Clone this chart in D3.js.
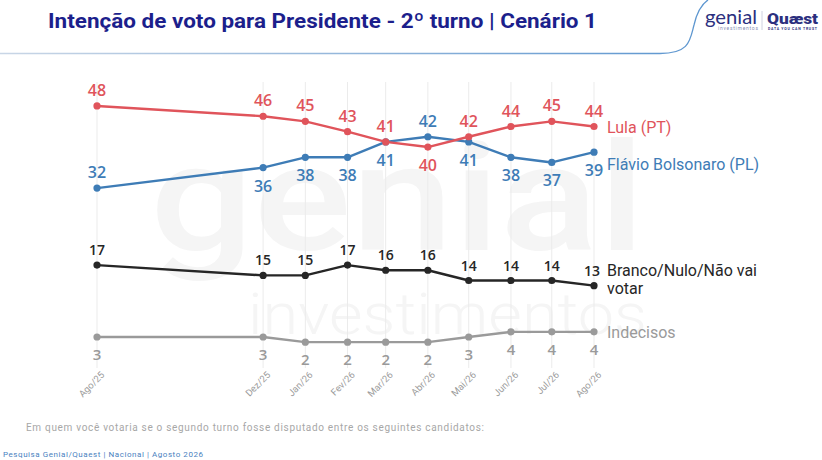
<!DOCTYPE html>
<html>
<head>
<meta charset="utf-8">
<script src="https://cdn.jsdelivr.net/npm/d3@7"></script>
<style>
  body { margin: 0; background: #fff; }
  svg { display: block; font-family: Roboto, "Open Sans", sans-serif; }
</style>
</head>
<body>
<svg id="chart" width="822" height="460"></svg>
<script>
"use strict";

// month labels and survey dates
var months = ["Ago/25", "Dez/25", "Jan/26", "Fev/26", "Mar/26", "Abr/26", "Mai/26", "Jun/26", "Jul/26", "Ago/26"];
var dates = ["2025-08", "2025-12", "2026-01", "2026-02", "2026-03", "2026-04", "2026-05", "2026-06", "2026-07", "2026-08"];

// series values (%)
var lula = [48, 46, 45, 43, 41, 40, 42, 44, 45, 44];
var flavio = [32, 36, 38, 38, 41, 42, 41, 38, 37, 39];
var branco = [17, 15, 15, 17, 16, 16, 14, 14, 14, 13];
var indecisos = [3, 3, 2, 2, 2, 2, 3, 4, 4, 4];

var parseMonth = d3.timeParse("%Y-%m");
var when = dates.map(parseMonth);

var svg = d3.select("#chart");

var x = d3.scaleTime().domain(d3.extent(when)).range([97, 594]);
var y = d3.scaleLinear().domain([0, 50]).range([352.4, 95.7]);

// ---- header ----
var defs = svg.append("defs");
var grad = defs.append("linearGradient").attr("id", "hdr").attr("x1", "0%").attr("x2", "100%");
grad.append("stop").attr("offset", "0%").attr("stop-color", "#c9d6e6");
grad.append("stop").attr("offset", "100%").attr("stop-color", "#5b95cf");
var grad2 = defs.append("linearGradient").attr("id", "ftr").attr("x1", "0%").attr("x2", "100%");
grad2.append("stop").attr("offset", "0%").attr("stop-color", "#5b95cf");
grad2.append("stop").attr("offset", "100%").attr("stop-color", "#8ebbe6");

svg.append("path")
  .attr("d", "M0,53.5 L660,53.5 C690,53.5 690,40 694,25 C697,12 702,4 708,0")
  .attr("fill", "none")
  .attr("stroke", "url(#hdr)")
  .attr("stroke-width", 1.3);

svg.append("text")
  .attr("x", 48)
  .attr("y", 28)
  .attr("textLength", 549)
  .attr("lengthAdjust", "spacingAndGlyphs")
  .attr("font-size", 21)
  .attr("font-weight", 700)
  .attr("fill", "#1c1f8c")
  .text("Intenção de voto para Presidente - 2º turno | Cenário 1");

// logos as text
svg.append("text").attr("x", 705).attr("y", 24).attr("font-size", 19)
  .attr("font-family", "Lato, sans-serif").attr("fill", "#2b2f7e")
  .attr("textLength", 52).attr("lengthAdjust", "spacingAndGlyphs").text("genial");
svg.append("text").attr("x", 718).attr("y", 30).attr("font-size", 5).attr("fill", "#8a8fb3")
  .attr("textLength", 40).text("investimentos");
svg.append("line").attr("x1", 762).attr("x2", 762).attr("y1", 11).attr("y2", 30)
  .attr("stroke", "#c4c7d8").attr("stroke-width", 0.8);
svg.append("text").attr("x", 767).attr("y", 24).attr("font-size", 15).attr("font-weight", 900)
  .attr("fill", "#2b2f7e").attr("textLength", 51).attr("lengthAdjust", "spacingAndGlyphs").text("Quæst");
svg.append("text").attr("x", 768).attr("y", 30).attr("font-size", 3.5).attr("font-weight", 700)
  .attr("fill", "#2b2f7e").attr("textLength", 49).text("DATA YOU CAN TRUST");

// ---- watermark ----
svg.append("text").attr("x", 150).attr("y", 250).attr("font-size", 150).attr("font-weight", 500)
  .attr("fill", "#f5f5f5").attr("textLength", 495).attr("lengthAdjust", "spacingAndGlyphs").text("genial");
svg.append("text").attr("x", 248).attr("y", 334).attr("font-size", 58).attr("font-weight", 300)
  .attr("fill", "#f5f5f5").attr("textLength", 399).attr("lengthAdjust", "spacingAndGlyphs").text("investimentos");

// ---- grid ----
svg.append("g")
  .selectAll("line")
  .data(when)
  .join("line")
  .attr("x1", (d) => x(d))
  .attr("x2", (d) => x(d))
  .attr("y1", 82)
  .attr("y2", 368)
  .attr("stroke", "#ebebeb")
  .attr("stroke-width", 1);

// ---- x axis ----
var xAxis = d3.axisBottom(x)
  .tickValues(when)
  .tickSize(0)
  .tickFormat((d, i) => months[i]);

var gx = svg.append("g").attr("transform", "translate(0,371)").call(xAxis);
gx.select(".domain").remove();
gx.selectAll("text")
  .attr("font-family", "Roboto, sans-serif")
  .attr("font-size", 9.5)
  .attr("fill", "#9b9b9b")
  .attr("text-anchor", "end")
  .attr("dy", "0.35em")
  .attr("transform", "translate(3,0) rotate(-45)");

// ---- series ----
var series = [
  { name: "Indecisos", values: indecisos, color: "#9a9a9a", fontSize: 15, label: ["Indecisos"] },
  { name: "Branco", values: branco, color: "#262626", fontSize: 14, label: ["Branco/Nulo/Não vai", "votar"] },
  { name: "Flávio", values: flavio, color: "#3e7cb6", fontSize: 16, label: ["Flávio Bolsonaro (PL)"] },
  { name: "Lula", values: lula, color: "#e0545b", fontSize: 16, label: ["Lula (PT)"] },
];

// where the value label sits relative to its point
function above(s, i) {
  if (s.name === "Lula") return lula[i] >= flavio[i];
  if (s.name === "Flávio") return i === 0 || flavio[i] > lula[i];
  if (s.name === "Branco") return true;
  return false;
}

var line = d3.line()
  .x((d, i) => x(when[i]))
  .y((d) => y(d));

var gs = svg.append("g")
  .selectAll(".serie")
  .data(series)
  .join("g")
  .attr("class", "serie");

gs.append("path")
  .attr("d", (s) => line(s.values))
  .attr("fill", "none")
  .attr("stroke", (s) => s.color)
  .attr("stroke-width", 2.4)
  .attr("stroke-linejoin", "round");

gs.selectAll("circle")
  .data((s) => s.values.map((v) => ({ v: v, s: s })))
  .join("circle")
  .attr("cx", (d, i) => x(when[i]))
  .attr("cy", (d) => y(d.v))
  .attr("r", 3.6)
  .attr("fill", (d) => d.s.color);

gs.selectAll(".val")
  .data((s) => s.values.map((v) => ({ v: v, s: s })))
  .join("text")
  .attr("class", "val")
  .attr("x", (d, i) => x(when[i]))
  .attr("y", (d, i) => {
    if (d.s.name === "Indecisos") return y(d.v) + 23;
    if (d.s.name === "Branco") return y(d.v) - 10;
    return above(d.s, i) ? y(d.v) - 10 : y(d.v) + 24;
  })
  .attr("dx", (d, i) => (d.s.name === "Branco" && i === d.s.values.length - 1 ? -2 : 0))
  .attr("text-anchor", "middle")
  .attr("font-family", "'Open Sans', sans-serif")
  .attr("font-size", (d) => d.s.fontSize)
  .attr("font-weight", 600)
  .attr("fill", (d) => d.s.color)
  .text((d) => d.v);

// end labels
gs.append("text")
  .attr("x", 607)
  .attr("y", (s) => {
    var last = s.values[s.values.length - 1];
    if (s.name === "Branco") return y(last) - 10;
    if (s.name === "Flávio") return y(last) + 18;
    return y(last) + 6;
  })
  .attr("font-size", 16)
  .attr("fill", (s) => s.color)
  .selectAll("tspan")
  .data((s) => s.label)
  .join("tspan")
  .attr("x", 607)
  .attr("dy", (d, i) => (i === 0 ? 0 : 18))
  .text((d) => d);

// ---- footer ----
svg.append("text")
  .attr("x", 26)
  .attr("y", 431)
  .attr("font-size", 10)
  .attr("fill", "#a7a7a7")
  .attr("textLength", 458)
  .text("Em quem você votaria se o segundo turno fosse disputado entre os seguintes candidatos:");

svg.append("text")
  .attr("x", 3)
  .attr("y", 457)
  .attr("font-size", 8)
  .attr("fill", "#4a7fc0")
  .attr("textLength", 200)
  .text("Pesquisa Genial/Quaest | Nacional | Agosto 2026");

svg.append("line")
  .attr("x1", 210).attr("x2", 822)
  .attr("y1", 454.5).attr("y2", 454.5)
  .attr("stroke", "url(#ftr)")
  .attr("stroke-width", 1.5);
</script>
</body>
</html>
